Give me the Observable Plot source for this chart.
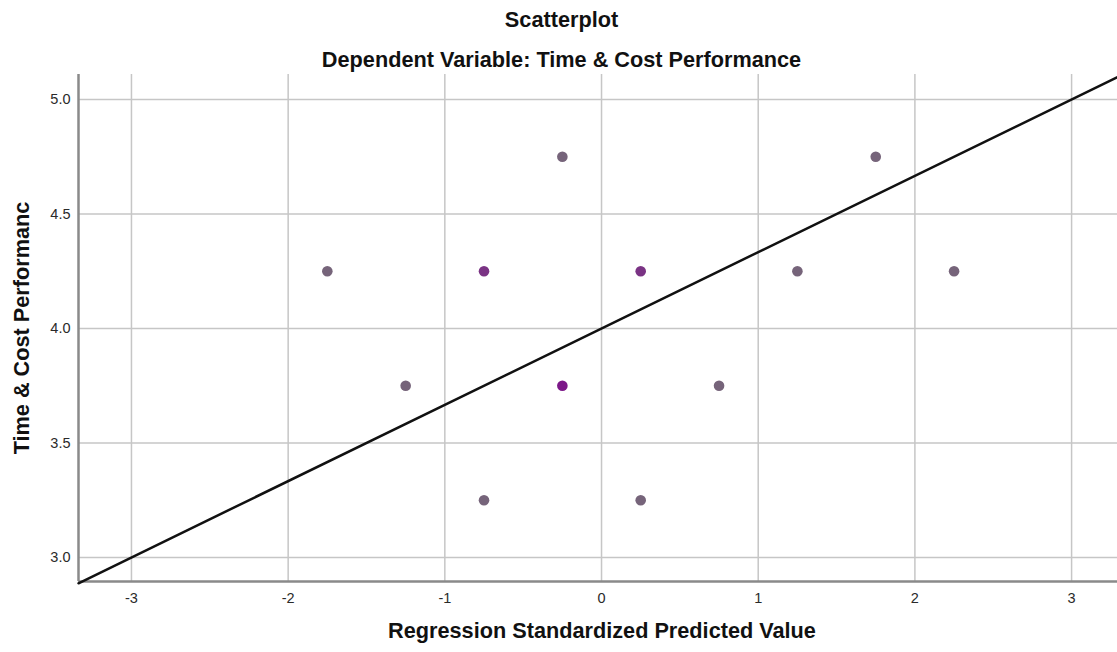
<!DOCTYPE html>
<html>
<head>
<meta charset="utf-8">
<script src="https://cdn.jsdelivr.net/npm/d3@7"></script>
<script src="https://cdn.jsdelivr.net/npm/@observablehq/plot@0.6"></script>
<style>
  html, body { margin: 0; padding: 0; background: #fff; }
  body { width: 1117px; height: 652px; overflow: hidden; font-family: "Liberation Sans", Arial, sans-serif; }
  #head { position: relative; height: 74px; }
  .t { position: absolute; left: 0; width: 1123px; text-align: center; font-weight: bold; font-size: 21.7px; line-height: 24px; color: #111; }
  #chart svg { display: block; }
</style>
</head>
<body>
<div id="head">
  <div class="t" style="top:8px">Scatterplot</div>
  <div class="t" style="top:48px">Dependent Variable: Time &amp; Cost Performance</div>
</div>
<div id="chart"></div>
<script>
// Data
const predicted = [-1.75, -1.25, -0.75, -0.75, -0.25, -0.25, 0.25, 0.25, 0.75, 1.25, 1.75, 2.25];
const observed  = [4.25, 3.75, 4.25, 3.25, 4.75, 3.75, 4.25, 3.25, 3.75, 4.25, 4.75, 4.25];
const overlap   = [1, 1, 2, 1, 1, 3, 2, 1, 1, 1, 1, 1];
const xTicks = [-3, -2, -1, 0, 1, 2, 3];
const yTicks = [3.0, 3.5, 4.0, 4.5, 5.0];
const fitIntercept = 4.0;
const fitSlope = 1 / 3;
const xDomain = [-3.338, 3.293];
const yDomain = [2.895, 5.109];

const points = predicted.map((x, i) => ({x, y: observed[i], n: overlap[i]}));
const fitLine = xDomain.map(x => ({x, y: fitIntercept + fitSlope * x}));

const chart = Plot.plot({
  width: 1117,
  height: 578,
  marginTop: 0,
  marginBottom: 71,
  marginLeft: 78,
  marginRight: 0,
  style: {fontFamily: "Liberation Sans, Arial, sans-serif", fontSize: "14.5px", color: "#222", background: "#fff"},
  x: {domain: xDomain, ticks: xTicks, tickFormat: d => String(d), label: null, tickSize: 0, tickPadding: 12},
  y: {domain: yDomain, ticks: yTicks, tickFormat: d3.format(".1f"), label: null, tickSize: 0, tickPadding: 8},
  color: {type: "ordinal", domain: [1, 2, 3], range: ["#76647a", "#7a3384", "#7c1888"]},
  marks: [
    Plot.gridX(xTicks, {stroke: "#c6c6c6", strokeOpacity: 1, strokeWidth: 1.5}),
    Plot.gridY(yTicks, {stroke: "#c6c6c6", strokeOpacity: 1, strokeWidth: 1.5}),
    Plot.ruleX([xDomain[0]], {stroke: "#8a8a8a", strokeWidth: 2.5}),
    Plot.ruleY([yDomain[0]], {stroke: "#8a8a8a", strokeWidth: 2.5}),
    Plot.axisX(xTicks, {tickSize: 0, tickPadding: 11, fontSize: 14.5, fill: "#2a2a2a", label: null, tickFormat: d => String(d)}),
    Plot.axisY(yTicks, {tickSize: 0, tickPadding: 8, fontSize: 14.5, fill: "#2a2a2a", label: null, tickFormat: d3.format(".1f")}),
    Plot.dot(points, {x: "x", y: "y", fill: "n", r: 5.3, stroke: "none"}),
    Plot.line(fitLine, {x: "x", y: "y", stroke: "#111", strokeWidth: 2.5}),
    Plot.text(["Regression Standardized Predicted Value"], {frameAnchor: "bottom", dy: 56, dx: 4, fontSize: 21.7, fontWeight: "bold", fill: "#111"}),
    Plot.text(["Time & Cost Performanc"], {frameAnchor: "left", dx: -56, dy: 0, rotate: -90, textAnchor: "middle", fontSize: 21.7, fontWeight: "bold", fill: "#111"})
  ]
});
document.getElementById("chart").appendChild(chart);
</script>
</body>
</html>
